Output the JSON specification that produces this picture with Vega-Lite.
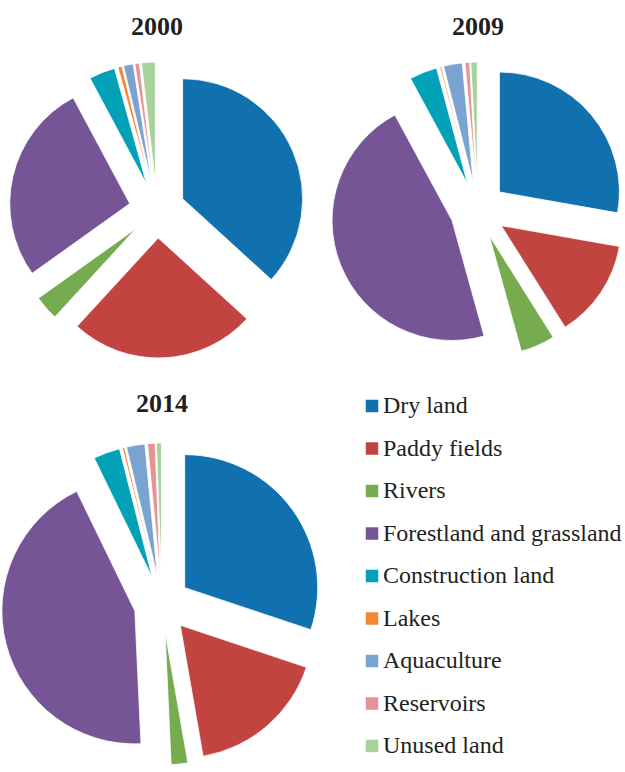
{
  "$schema": "https://vega.github.io/schema/vega-lite/v6.json",
  "padding": {"top": 14, "left": 0, "right": 0, "bottom": 0},
  "background": "white",
  "config": {
    "view": {"stroke": null},
    "font": "Liberation Serif",
    "title": {"font": "Liberation Serif", "fontSize": 26, "fontWeight": "bold", "color": "#231f20", "anchor": "middle", "offset": 13},
    "legend": {
      "title": null, "orient": "none", "legendX": 360, "legendY": 341,
      "symbolType": "square", "symbolSize": 156, "symbolStrokeWidth": 0,
      "labelFont": "Liberation Serif", "labelFontSize": 24, "labelColor": "#231f20",
      "labelOffset": -1, "rowPadding": 18.5, "padding": 0, "labelLimit": 400
    }
  },
  "data": {
    "values": [
      {"year": 2000, "type": "Dry land", "pct": 36.7},
      {"year": 2000, "type": "Paddy fields", "pct": 25.0},
      {"year": 2000, "type": "Rivers", "pct": 3.3},
      {"year": 2000, "type": "Forestland and grassland", "pct": 27.0},
      {"year": 2000, "type": "Construction land", "pct": 3.5},
      {"year": 2000, "type": "Lakes", "pct": 0.55},
      {"year": 2000, "type": "Aquaculture", "pct": 1.3},
      {"year": 2000, "type": "Reservoirs", "pct": 0.6},
      {"year": 2000, "type": "Unused land", "pct": 1.85},
      {"year": 2009, "type": "Dry land", "pct": 27.6},
      {"year": 2009, "type": "Paddy fields", "pct": 13.2},
      {"year": 2009, "type": "Rivers", "pct": 4.6},
      {"year": 2009, "type": "Forestland and grassland", "pct": 46.1},
      {"year": 2009, "type": "Construction land", "pct": 3.7},
      {"year": 2009, "type": "Lakes", "pct": 0.2},
      {"year": 2009, "type": "Aquaculture", "pct": 2.5},
      {"year": 2009, "type": "Reservoirs", "pct": 0.6},
      {"year": 2009, "type": "Unused land", "pct": 0.85},
      {"year": 2014, "type": "Dry land", "pct": 29.9},
      {"year": 2014, "type": "Paddy fields", "pct": 17.0},
      {"year": 2014, "type": "Rivers", "pct": 2.0},
      {"year": 2014, "type": "Forestland and grassland", "pct": 43.2},
      {"year": 2014, "type": "Construction land", "pct": 3.2},
      {"year": 2014, "type": "Lakes", "pct": 0.25},
      {"year": 2014, "type": "Aquaculture", "pct": 2.2},
      {"year": 2014, "type": "Reservoirs", "pct": 0.9},
      {"year": 2014, "type": "Unused land", "pct": 0.6}
    ]
  },
  "vconcat": [
    {
      "hconcat": [
        {
          "title": "2000",
          "width": 314,
          "height": 314,
          "transform": [
            {"filter": "datum.year == 2000"},
            {"stack": "pct", "groupby": ["year"], "offset": "normalize", "as": ["v0", "v1"]}
          ],
          "mark": {"type": "arc", "outerRadius": 120, "stroke": "white", "strokeWidth": 0.8,
                   "xOffset": {"expr": "28*sin(PI*(datum.v0+datum.v1))"},
                   "yOffset": {"expr": "-28*cos(PI*(datum.v0+datum.v1))"}},
          "encoding": {
            "theta": {"field": "v0", "type": "quantitative", "scale": {"domain": [0, 1]}},
            "theta2": {"field": "v1"},
            "color": {
              "field": "type", "type": "nominal",
              "scale": {
                "domain": ["Dry land", "Paddy fields", "Rivers", "Forestland and grassland", "Construction land", "Lakes", "Aquaculture", "Reservoirs", "Unused land"],
                "range": ["#1071ae", "#c24441", "#76ab4f", "#765596", "#02a1b7", "#f38733", "#7ba3d1", "#e69395", "#a7d29b"]
              }
            }
          }
        },
        {
          "title": "2009",
          "width": 290,
          "height": 314,
          "transform": [
            {"filter": "datum.year == 2009"},
            {"stack": "pct", "groupby": ["year"], "offset": "normalize", "as": ["v0", "v1"]}
          ],
          "mark": {"type": "arc", "outerRadius": 120, "stroke": "white", "strokeWidth": 0.8,
                   "xOffset": {"expr": "28*sin(PI*(datum.v0+datum.v1))"},
                   "yOffset": {"expr": "-28*cos(PI*(datum.v0+datum.v1))"}},
          "encoding": {
            "theta": {"field": "v0", "type": "quantitative", "scale": {"domain": [0, 1]}},
            "theta2": {"field": "v1"},
            "color": {
              "field": "type", "type": "nominal",
              "scale": {
                "domain": ["Dry land", "Paddy fields", "Rivers", "Forestland and grassland", "Construction land", "Lakes", "Aquaculture", "Reservoirs", "Unused land"],
                "range": ["#1071ae", "#c24441", "#76ab4f", "#765596", "#02a1b7", "#f38733", "#7ba3d1", "#e69395", "#a7d29b"]
              }
            }
          }
        }
      ],
      "spacing": 16
    },
    {
      "title": {"text": "2014", "offset": 22},
      "width": 324,
      "height": 330,
      "transform": [
        {"filter": "datum.year == 2014"},
        {"stack": "pct", "groupby": ["year"], "offset": "normalize", "as": ["v0", "v1"]}
      ],
      "mark": {"type": "arc", "outerRadius": 133, "stroke": "white", "strokeWidth": 0.8,
               "xOffset": {"expr": "28*sin(PI*(datum.v0+datum.v1))"},
               "yOffset": {"expr": "-28*cos(PI*(datum.v0+datum.v1))"}},
      "encoding": {
        "theta": {"field": "v0", "type": "quantitative", "scale": {"domain": [0, 1]}},
        "theta2": {"field": "v1"},
        "color": {
          "field": "type", "type": "nominal",
          "scale": {
            "domain": ["Dry land", "Paddy fields", "Rivers", "Forestland and grassland", "Construction land", "Lakes", "Aquaculture", "Reservoirs", "Unused land"],
            "range": ["#1071ae", "#c24441", "#76ab4f", "#765596", "#02a1b7", "#f38733", "#7ba3d1", "#e69395", "#a7d29b"]
          }
        }
      }
    }
  ],
  "spacing": 24
}
